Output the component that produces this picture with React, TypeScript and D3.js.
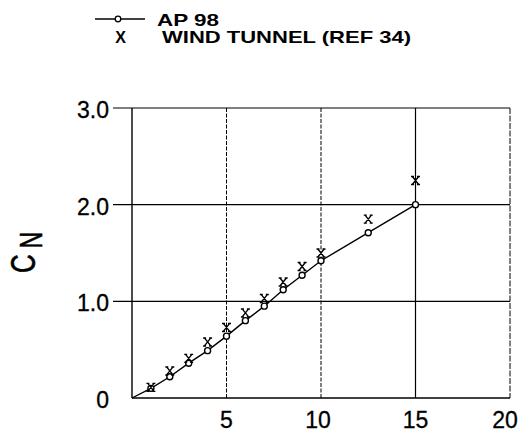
import React from "react";
import * as d3 from "d3";

const ap98Alpha = [0, 1, 2, 3, 4, 5, 6, 7, 8, 9, 10, 12.5, 15];
const ap98CN = [0, 0.1, 0.22, 0.36, 0.49, 0.64, 0.8, 0.95, 1.12, 1.27, 1.42, 1.71, 2.0];
const windAlpha = [1, 2, 3, 4, 5, 6, 7, 8, 9, 10, 12.5, 15];
const windCN = [0.11, 0.28, 0.41, 0.58, 0.73, 0.88, 1.03, 1.2, 1.36, 1.5, 1.85, 2.25];
const xTicks = [5, 10, 15, 20];
const yTicks = [0, 1, 2, 3];
const yTickLabels = ["0", "1.0", "2.0", "3.0"];

const W = 527;
const H = 438;
const FONT = "'Liberation Sans', Arial, sans-serif";

export default function App() {
  const x = d3.scaleLinear().domain([0, 20]).range([132, 510]);
  const y = d3.scaleLinear().domain([0, 3]).range([398, 108]);
  const line = d3
    .line<number>()
    .x((_, i) => x(ap98Alpha[i]))
    .y((d) => y(d));

  const xMark = (cx: number, cy: number) =>
    `M${cx - 3.2},${cy - 4} L${cx + 3.2},${cy + 4} M${cx + 3.2},${cy - 4} L${cx - 3.2},${cy + 4} ` +
    `M${cx - 4.5},${cy - 4} L${cx - 1.5},${cy - 4} M${cx + 1.5},${cy - 4} L${cx + 4.5},${cy - 4} ` +
    `M${cx - 4.5},${cy + 4} L${cx - 1.5},${cy + 4} M${cx + 1.5},${cy + 4} L${cx + 4.5},${cy + 4}`;

  return (
    <svg
      width={W}
      height={H}
      style={{ position: "absolute", left: 0, top: 0, background: "#fff" }}
      fontFamily={FONT}
    >
      <rect x={0} y={0} width={W} height={H} fill="#fff" />
      {/* Legend */}
      <line x1={95} x2={145} y1={19} y2={19} stroke="#000" strokeWidth={1.3} />
      <circle cx={118} cy={19} r={2.8} fill="#fff" stroke="#000" strokeWidth={1.3} />
      <text
        x={157}
        y={26}
        fontSize={17}
        fontWeight="bold"
        fill="#000"
        textLength={62}
        lengthAdjust="spacingAndGlyphs"
      >
        AP 98
      </text>
      <text x={120.5} y={43} fontSize={16} fill="#000" fontWeight="bold" textAnchor="middle">
        X
      </text>
      <text
        x={162}
        y={43}
        fontSize={17}
        fontWeight="bold"
        fill="#000"
        textLength={249}
        lengthAdjust="spacingAndGlyphs"
      >
        WIND TUNNEL (REF 34)
      </text>

      {/* Grid: horizontal */}
      {yTicks
        .filter((t) => t > 0)
        .map((t) => (
          <line key={"h" + t} x1={113} x2={x(20)} y1={y(t)} y2={y(t)} stroke="#000" strokeWidth={1.2} />
        ))}
      {/* Grid: vertical */}
      {xTicks.map((t) => (
        <line
          key={"v" + t}
          x1={x(t)}
          x2={x(t)}
          y1={y(3)}
          y2={y(0)}
          stroke="#000"
          strokeWidth={t === 15 ? 1.2 : 1}
          strokeDasharray={t === 15 ? undefined : t === 20 ? "6 1.5" : "4 1.5"}
        />
      ))}
      {/* Axes */}
      <line x1={x(0)} x2={x(0)} y1={y(3)} y2={y(0)} stroke="#000" strokeWidth={1.4} />
      <line x1={x(0)} x2={x(20)} y1={y(0)} y2={y(0)} stroke="#000" strokeWidth={1.4} />

      {/* Tick labels */}
      {yTicks.map((t, i) => (
        <text
          key={"yl" + t}
          x={109}
          y={y(t) + 10}
          fontSize={23}
          textAnchor="end"
          fill="#000"
          stroke="#000"
          strokeWidth={0.3}
        >
          {yTickLabels[i]}
        </text>
      ))}
      {xTicks.map((t) => (
        <text
          key={"xl" + t}
          x={x(t) - (t === 20 ? 5 : t === 10 ? 3 : 0)}
          y={428}
          fontSize={23}
          textAnchor="middle"
          fill="#000"
          stroke="#000"
          strokeWidth={0.3}
        >
          {t}
        </text>
      ))}

      {/* Y axis label C_N */}
      <g transform="translate(35,273) rotate(-90) scale(0.72,1)">
        <text x={0} y={0} fontSize={36} fill="#000" stroke="#000" strokeWidth={0.6}>
          C
        </text>
        <text x={34} y={7} fontSize={32} fill="#000" stroke="#000" strokeWidth={0.6}>
          N
        </text>
      </g>

      {/* AP 98 line */}
      <path d={line(ap98CN) || ""} fill="none" stroke="#000" strokeWidth={1.4} />
      {ap98CN.map((v, i) =>
        i === 0 ? null : (
          <circle key={"c" + i} cx={x(ap98Alpha[i])} cy={y(v)} r={3} fill="#fff" stroke="#000" strokeWidth={1.4} />
        )
      )}
      {/* Wind tunnel markers */}
      {windCN.map((v, i) => (
        <path key={"w" + i} d={xMark(x(windAlpha[i]), y(v))} fill="none" stroke="#000" strokeWidth={1.4} />
      ))}
    </svg>
  );
}
